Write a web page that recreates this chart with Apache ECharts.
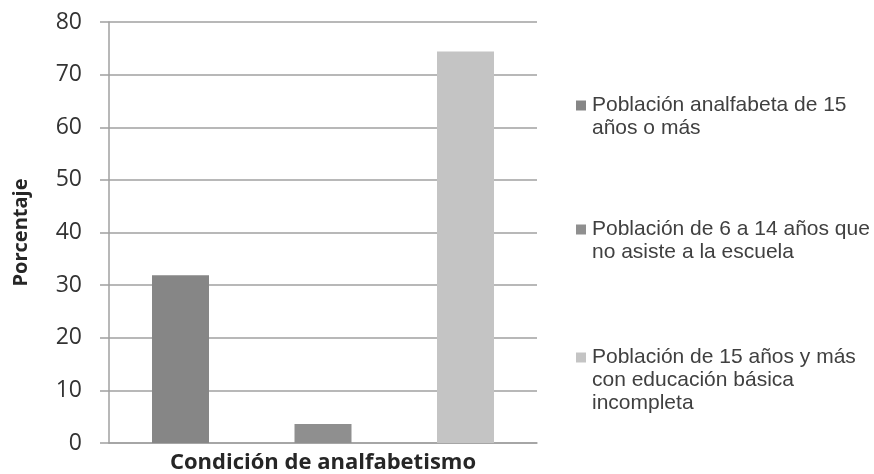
<!DOCTYPE html>
<html>
<head>
<meta charset="utf-8">
<script src="https://cdn.jsdelivr.net/npm/echarts@6/dist/echarts.min.js"></script>
<style>
  html, body { margin: 0; padding: 0; background: #fff; }
  #chart { width: 874px; height: 474px; }
</style>
</head>
<body>
<div id="chart"></div>
<script>
// Data
const categories = [''];
const seriesNames = [
    'Población analfabeta de 15\naños o más',
    'Población de 6 a 14 años que\nno asiste a la escuela',
    'Población de 15 años y más\ncon educación básica\nincompleta'
];
const seriesValues = [[31.9], [3.6], [74.4]];
const yTicks = { min: 0, max: 80, interval: 10 };

const colors = ['#868686', '#8f8f8f', '#c4c4c4'];
const legendTops = [89, 213, 341];
const gridColor = '#a0a0a0';

const chart = echarts.init(document.getElementById('chart'));

// rich-text legend so the square sits on the first line, like Excel
const rich = {
    g: { width: 6 },
    pad: { width: 16, lineHeight: 23 }
};
colors.forEach((c, i) => {
    rich['sq' + i] = { width: 10, height: 10, backgroundColor: c };
});

const legends = seriesNames.map((name, i) => ({
    data: [name],
    left: 566,
    top: legendTops[i],
    orient: 'vertical',
    icon: 'none',
    itemWidth: 0,
    itemHeight: 10,
    selectedMode: false,
    formatter: n => n.split('\n')
        .map((line, k) => (k === 0 ? '{sq' + i + '|}{g|}' : '{pad|}') + line)
        .join('\n'),
    textStyle: {
        fontFamily: 'Liberation Sans',
        fontSize: 21,
        color: '#404040',
        lineHeight: 23,
        rich: rich
    }
}));

const option = {
    animation: false,
    backgroundColor: '#fff',
    legend: legends,
    grid: { left: 109, right: 337, top: 22, bottom: 31, outerBoundsMode: 'none' },
    xAxis: {
        type: 'category',
        data: categories,
        name: 'Condición de analfabetismo',
        nameLocation: 'middle',
        nameGap: 9,
        nameTextStyle: {
            fontFamily: 'Open Sans',
            fontWeight: 'bold',
            fontSize: 22,
            color: '#262626'
        },
        axisLine: { lineStyle: { color: gridColor, width: 1.5 } },
        axisTick: { show: false },
        axisLabel: { show: false }
    },
    yAxis: {
        type: 'value',
        min: yTicks.min,
        max: yTicks.max,
        interval: yTicks.interval,
        name: 'Porcentaje',
        nameLocation: 'middle',
        nameGap: 78,
        nameTextStyle: {
            fontFamily: 'Open Sans',
            fontWeight: 'bold',
            fontSize: 20,
            color: '#262626'
        },
        axisLine: { show: true, lineStyle: { color: gridColor, width: 1.5 } },
        axisTick: { show: true, length: 9, lineStyle: { color: gridColor, width: 1.5 } },
        splitLine: { lineStyle: { color: gridColor, width: 1.5 } },
        axisLabel: {
            fontFamily: 'Open Sans',
            fontSize: 23,
            color: '#333',
            margin: 27
        }
    },
    series: seriesNames.map((name, i) => ({
        type: 'bar',
        name: name,
        data: seriesValues[i],
        barWidth: 57,
        barGap: '150%',
        itemStyle: { color: colors[i] }
    }))
};

chart.setOption(option);
</script>
</body>
</html>
